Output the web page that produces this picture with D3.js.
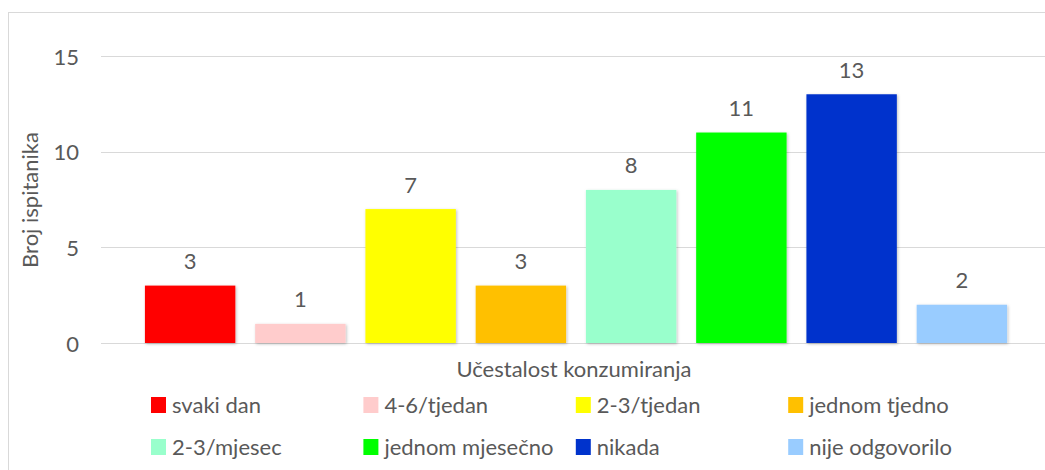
<!DOCTYPE html>
<html>
<head>
<meta charset="utf-8">
<script src="https://cdn.jsdelivr.net/npm/d3@7"></script>
<style>
  body { margin: 0; background: #fff; }
  text { font-family: Lato, "Open Sans", sans-serif; fill: #595959; font-size: 22px; }
</style>
</head>
<body>
<div id="chart"></div>
<script>
// data
var categories = ["svaki dan", "4-6/tjedan", "2-3/tjedan", "jednom tjedno",
                  "2-3/mjesec", "jednom mjesečno", "nikada", "nije odgovorilo"];
var values = [3, 1, 7, 3, 8, 11, 13, 2];
var colors = ["#FF0000", "#FFCCCC", "#FFFF00", "#FFC000",
              "#99FFCC", "#00FF00", "#0033CC", "#99CCFF"];
var yTicks = [0, 5, 10, 15];

var W = 1045, H = 470;

var svg = d3.select("#chart")
  .append("svg")
    .attr("width", W)
    .attr("height", H);

// soft shadow under the bars
var f = svg.append("defs").append("filter")
    .attr("id", "shadow")
    .attr("x", "-20%").attr("y", "-20%")
    .attr("width", "140%").attr("height", "140%");
f.append("feDropShadow")
    .attr("dx", 1).attr("dy", 1)
    .attr("stdDeviation", 1.5)
    .attr("flood-color", "#000")
    .attr("flood-opacity", 0.25);

// outer chart border
svg.append("rect")
    .attr("x", 8.5).attr("y", 12.5)
    .attr("width", 1060).attr("height", 480)
    .attr("fill", "none")
    .attr("stroke", "#d9d9d9");

var x = d3.scaleBand()
    .domain(categories)
    .range([135, 1017])
    .paddingInner(0.18)
    .paddingOuter(0.09);

var y = d3.scaleLinear()
    .domain([0, 15])
    .range([343, 56]);

// gridlines
svg.append("g")
  .selectAll("line")
  .data(yTicks)
  .enter()
  .append("line")
    .attr("x1", 101)
    .attr("x2", W)
    .attr("y1", function(d) { return Math.round(y(d)) + 0.5; })
    .attr("y2", function(d) { return Math.round(y(d)) + 0.5; })
    .attr("stroke", "#d9d9d9")
    .attr("stroke-width", 1.2);

// y axis labels
var yAxis = svg.append("g")
    .attr("transform", "translate(89,0)")
    .call(d3.axisLeft(y).tickValues(yTicks).tickSize(0).tickPadding(10));
yAxis.select(".domain").remove();
yAxis.selectAll("text")
    .attr("dy", null)
    .attr("y", 8)
    .style("font-size", "22px")
    .style("font-family", "Lato, sans-serif")
    .attr("fill", "#595959");

// bars
svg.append("g")
  .selectAll("rect")
  .data(values)
  .enter()
  .append("rect")
    .attr("x", function(d, i) { return x(categories[i]); })
    .attr("y", function(d) { return y(d); })
    .attr("width", x.bandwidth())
    .attr("height", function(d) { return y(0) - y(d); })
    .attr("fill", function(d, i) { return colors[i]; })
    .attr("filter", "url(#shadow)");

// value labels
svg.append("g")
  .selectAll("text")
  .data(values)
  .enter()
  .append("text")
    .attr("x", function(d, i) { return x(categories[i]) + x.bandwidth() / 2; })
    .attr("y", function(d) { return y(d) - 16.5; })
    .attr("text-anchor", "middle")
    .text(function(d) { return d; });

// axis titles
svg.append("text")
    .attr("x", 574)
    .attr("y", 377)
    .attr("text-anchor", "middle")
    .text("Učestalost konzumiranja");

svg.append("text")
    .attr("transform", "translate(38,200) rotate(-90)")
    .attr("text-anchor", "middle")
    .text("Broj ispitanika");

// legend, 4 columns x 2 rows
var legend = svg.append("g")
  .selectAll("g")
  .data(categories)
  .enter()
  .append("g")
    .attr("transform", function(d, i) {
      return "translate(" + (151 + (i % 4) * 212.4) + "," + (405 + Math.floor(i / 4) * 42) + ")";
    });

legend.append("rect")
    .attr("x", 0).attr("y", -8)
    .attr("width", 15).attr("height", 16)
    .attr("fill", function(d, i) { return colors[i]; });

legend.append("text")
    .attr("x", 21)
    .attr("y", 8)
    .text(function(d) { return d; });
</script>
</body>
</html>
